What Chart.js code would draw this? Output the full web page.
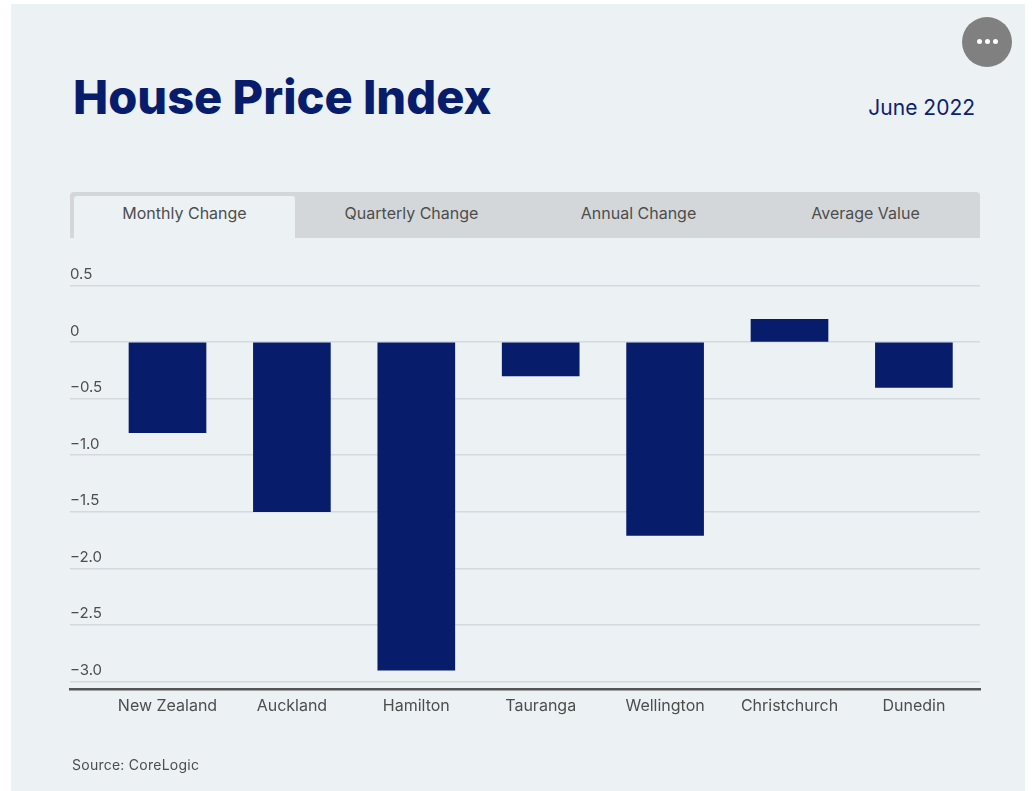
<!DOCTYPE html>
<html><head><meta charset="utf-8">
<script src="https://cdn.jsdelivr.net/npm/chart.js@4"></script>
<style>
html,body{margin:0;padding:0;background:#fff;overflow:hidden;width:1032px;height:791px}
body{font-family:Inter,sans-serif}
#panel{position:absolute;left:11px;top:4px;width:1014px;height:787px;background:#ecf1f4}
#chart{position:absolute;left:0;top:0}
.abs{position:absolute;white-space:nowrap}
#title{left:73px;top:64px;font-size:47px;line-height:66px;font-weight:800;color:#071d6c}
#date{right:57px;top:94px;font-size:21px;line-height:28px;color:#0c2270}
#tabs{left:70px;top:192px;width:910px;height:46px;background:#d3d7da;border-radius:4px 4px 0 0}
#active{left:74px;top:196px;width:221px;height:42px;background:#ecf1f4;border-radius:3px 3px 0 0}
.tab{top:203px;width:227px;text-align:center;font-size:16px;line-height:20px;color:#4d4d4d}
#src{left:72px;top:756px;font-size:14px;line-height:18px;color:#4d4d4d;letter-spacing:.25px}
#more{left:962px;top:17px;width:50px;height:50px;border-radius:50%;background:#808080}
.dot{position:absolute;top:22px;width:5px;height:5px;border-radius:50%;background:#fff}
</style></head><body>
<div id="panel"></div>
<div class="abs" id="title">House Price Index</div>
<div class="abs" id="date">June 2022</div>
<div class="abs" id="tabs"></div>
<div class="abs" id="active"></div>
<div class="abs tab" style="left:71px">Monthly Change</div>
<div class="abs tab" style="left:298px">Quarterly Change</div>
<div class="abs tab" style="left:525px">Annual Change</div>
<div class="abs tab" style="left:752px">Average Value</div>
<div class="abs" id="more"><span class="dot" style="left:15px"></span><span class="dot" style="left:23px"></span><span class="dot" style="left:31px"></span></div>
<canvas id="chart" width="1032" height="791"></canvas>
<div class="abs" id="src">Source: CoreLogic</div>
<script>
const categories = ["New Zealand","Auckland","Hamilton","Tauranga","Wellington","Christchurch","Dunedin"];
const monthlyChange = [-0.8,-1.5,-2.9,-0.3,-1.71,0.2,-0.4];
const yTickValues = [0.5,0,-0.5,-1,-1.5,-2,-2.5,-3];
const yTickLabels = ["0.5","0","\u22120.5","\u22121.0","\u22121.5","\u22122.0","\u22122.5","\u22123.0"];

new Chart(document.getElementById('chart'), {
  type: 'bar',
  data: {
    labels: categories,
    datasets: [{
      label: 'Monthly Change',
      data: monthlyChange.map((v, i) => ({x: i, y: v})),
      backgroundColor: '#071d6c',
      borderWidth: 0,
      barThickness: 77
    }]
  },
  options: {
    responsive: false,
    animation: false,
    layout: {padding: {left: 70, right: 52, top: 285.5, bottom: 67}},
    plugins: {legend: {display: false}, tooltip: {enabled: false}},
    scales: {
      x: {
        type: 'linear',
        offset: false,
        min: -97.5 / 124.4,
        max: 812.5 / 124.4,
        afterBuildTicks: s => { s.ticks = categories.map((c, i) => ({value: i})); },
        grid: {display: false, drawTicks: false},
        border: {display: true, color: '#555555', width: 2.5},
        ticks: {
          autoSkip: false, maxRotation: 0, padding: 8,
          color: '#4d4d4d', font: {family: 'Inter', size: 16},
          callback: v => categories[v]
        }
      },
      y: {
        min: -3.065,
        max: 0.5,
        afterBuildTicks: s => { s.ticks = yTickValues.map(v => ({value: v})); },
        afterFit: s => { s.width = 0; },
        grid: {color: '#d3d9dd', lineWidth: 1.5, drawTicks: false},
        border: {display: false},
        ticks: {
          mirror: true, padding: 0, labelOffset: -11,
          color: '#4d4d4d', font: {family: 'Inter', size: 15},
          callback: v => yTickLabels[yTickValues.indexOf(v)]
        }
      }
    }
  }
});
</script>
</body></html>
